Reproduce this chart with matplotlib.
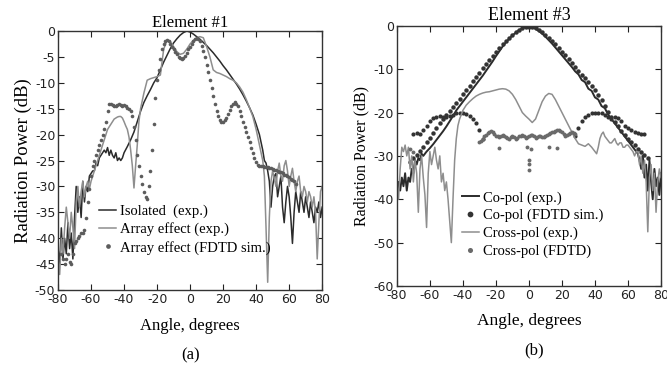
import matplotlib
matplotlib.use('Agg')
import matplotlib.pyplot as plt

plt.rcParams['axes.unicode_minus'] = False

# ---- panel (a): Element #1 ----
iso_ang = list(range(-80, -39)) + list(range(-38, 45, 2)) + list(range(45, 81))
iso_db = [-42, -45, -38, -44, -40, -43, -37, -42, -39, -44,
          -36, -30, -35, -32, -36, -29, -33, -30, -31, -28,
          -27.5, -27, -27, -25.5, -26, -24.5, -24, -23.5, -23, -23.5,
          -22.5, -24, -23, -24, -24.5, -23.5, -25, -24.5, -25, -24.5,
          -23.5,
          -22.3, -21, -19.5, -17.5, -15.5, -13.8, -12.5, -11.3, -10, -9,
          -7.5, -6, -4.7, -3.4, -2.3, -1.5, -0.8, -0.3, 0, -0.2,
          -0.6, -1.1, -1.6, -2.2, -2.8, -3.5, -4.2, -5, -5.8, -6.7,
          -7.5, -8.4, -9.3, -10.2, -11.2, -12.3, -13.5, -14.8, -16.2, -18,
          -20, -23,
          -25, -25.5, -27, -29, -34, -30, -28, -27.5, -32, -30,
          -28, -34, -37, -33, -30, -32, -36, -41, -35, -31,
          -33, -35, -31, -33, -35, -32, -34, -36, -33, -35,
          -37, -34, -35, -33, -36, -34]

arr_ang = list(range(-80, -29)) + list(range(-28, 45, 2)) + list(range(45, 81))
arr_db = [-44, -47, -40, -43, -38, -34, -37, -40, -35, -38,
          -42, -33, -30, -34, -31, -29, -32, -30, -29, -30.5,
          -29, -28, -27, -26, -25, -24, -23, -22, -21, -20,
          -19, -18.5, -18, -17.5, -17, -16.8, -16.6, -16.5, -16.5, -16.8,
          -17.5, -18.3, -19, -20.5, -23, -26, -30.3, -26, -22, -17.5,
          -15,
          -12, -9.5, -9.2, -9, -8.8, -8.5, -3.5, -1.8, -2, -3,
          -4, -4.5, -4.3, -3.5, -2.5, -1.8, -1.3, -1.1, -1.3, -3,
          -5, -7.5, -8, -8.2, -8.5, -8.8, -9.2, -9.5, -10, -10.8,
          -11.8, -13.2, -14.8, -16.5, -19, -22, -25,
          -28, -38, -48.5, -36, -29, -27, -28.5, -30, -27, -25.5,
          -28, -29, -26, -25, -27, -30, -28, -26.5, -29, -31,
          -29, -28, -31, -32, -30, -31, -33, -31, -32, -34,
          -32, -35, -44, -37, -31, -30]

fdtd_a_ang = list(range(-78, 65))
fdtd_a_db = [-43, -44, -45, -44, -43, -44.5, -45, -43, -41, -40.5,
             -40, -39.5, -39, -39, -38.5, -36, -33, -30.5, -28, -26,
             -25, -24, -23, -22, -21, -20, -19, -17.5, -15.5, -14,
             -14, -14.3, -14.5, -14.5, -14.2, -14, -14.2, -14.5, -14.3, -14.5,
             -14.8, -15, -15.5, -16.5, -18.5, -21, -24, -26, -28, -29.5,
             -31, -32, -32.5, -30, -27, -23, -18, -13, -9.5, -7.5,
             -5.5, -3.5, -2.5, -2, -1.8, -2, -2.5, -3, -3.5, -4,
             -4.5, -5, -5.2, -5.4, -5.2, -4.8, -4.2, -3.5, -3, -2.5,
             -2, -1.6, -1.4, -1.5, -2, -2.8, -3.8, -5, -6.5, -8,
             -9.5, -11, -12.5, -14, -15.5, -16.5, -17.2, -17.5, -17.5, -17.2,
             -16.8, -16, -15.3, -14.5, -14, -13.8, -14, -14.5, -15.5, -16.5,
             -17.5, -18.5, -19.5, -20.5, -21.5, -22.5, -23.5, -24.5, -25.3, -25.8,
             -26, -26, -26, -26.2, -26.3, -26.2, -26.5, -26.4, -26.6, -26.8,
             -26.8, -27, -27.2, -27.3, -27.5, -27.7, -27.8, -28, -28.2, -28.5,
             -28.8, -29, -29.5]

# ---- panel (b): Element #3 ----
co_exp_ang = list(range(-80, -63)) + list(range(-62, 67, 2)) + list(range(67, 81))
co_exp_db = [-40, -36, -38, -35, -37, -34, -38, -35, -36, -33, -34, -31, -32, -30.5, -31, -29.5, -30,
             -29, -28.2, -27.3, -26.3, -25.3, -24.3, -23.2, -22, -20.8, -19.5,
             -18.5, -17.5, -16.5, -15.5, -14.5, -13.5, -12.5, -11.5, -10.4, -9.3,
             -8.2, -7, -5.9, -4.8, -3.8, -3, -2.2, -1.6, -1, -0.6,
             -0.3, -0.1, -0.3, -0.7, -1.2, -1.8, -2.5, -3.3, -4.1, -5,
             -5.9, -6.8, -7.7, -8.6, -9.5, -10.5, -11.2, -12.5, -13, -14.5,
             -15, -16.5, -17, -18.5, -19, -20.5, -21.5, -22.5, -23.5, -24.5,
             -25.5, -26.5, -27.5, -28.5, -29.5,
             -31, -33, -30, -35, -32, -38, -31, -36, -40, -33, -37, -35, -39, -34]

co_fdtd_ang = list(range(-72, 73, 2))
co_fdtd_db = [-31.5, -30.5, -29.8, -28.8, -28, -26.8, -25.8, -24.8, -23.6, -22.5,
              -21.5, -20.5, -19.6, -18.7, -17.8, -16.8, -15.8, -14.8, -13.8, -12.8,
              -11.8, -10.8, -9.8, -8.8, -7.9, -6.9, -6, -5.1, -4.3, -3.5,
              -2.8, -2.1, -1.5, -1, -0.6, -0.3, -0.2, -0.3, -0.6, -1,
              -1.5, -2.1, -2.8, -3.5, -4.3, -5.1, -6, -6.8, -7.7, -8.6,
              -9.5, -10.4, -11.3, -12.1, -12.9, -13.8, -14.8, -16, -17.2, -18.5,
              -19.8, -21, -22.2, -23.2, -24.2, -25.2, -26, -26.8, -27.6, -28.3,
              -29, -29.8, -30.5]

lobe_l_ang = list(range(-70, -27, 2))
lobe_l_db = [-25, -24.8, -25, -24, -23, -22, -21.3, -21, -20.8, -21, -21,
             -20.8, -20.5, -20.2, -20, -20, -20.3, -20.8, -21.5, -22.5, -24, -26]
lobe_r_ang = list(range(28, 71, 2))
lobe_r_db = [-25.5, -23.5, -22, -21, -20.5, -20.2, -20, -20, -20.2, -20.5, -21,
             -21.5, -21, -21.2, -22, -23, -23.5, -24, -24.5, -24.8, -25, -25]

x_exp_ang = list(range(-80, -39)) + list(range(-38, 41, 2)) + list(range(41, 81))
x_exp_db = [-36, -40, -33, -28, -29, -27.5, -30, -28, -33, -30,
            -36, -31, -34, -43, -33, -30, -35, -39, -46.5, -34,
            -29, -32, -30, -28, -31, -33, -30, -36, -34, -38,
            -36, -40, -45, -50, -40, -31, -26, -23, -21.5, -20.5,
            -19.5,
            -18.3, -17.5, -16.8, -16.2, -15.8, -15.5, -15.3, -15.2, -15, -14.8,
            -14.6, -14.5, -14.6, -15, -15.8, -17, -18.5, -20, -20.8, -21.5,
            -22.3, -21.5, -19.5, -17.5, -16.2, -15.6, -15.8, -17, -18.5, -20,
            -21.5, -23, -24.5, -26, -27.2, -27.5, -27.8, -27.2, -28, -29,
            -29.5, -28, -26, -25, -24.5, -25.5, -26, -26.5, -27, -27,
            -26.5, -26, -27, -27.5, -27, -27, -28, -28, -27.5, -27.5,
            -28, -28.5, -29, -30, -29, -29, -32, -30, -34, -31,
            -36, -47.5, -35, -32, -38, -34, -43, -36, -33, -35]

x_fdtd_ang = list(range(-30, 29)) + [-72, -70, -18, -1, 1, 0, 0, 0, 12, 17]
x_fdtd_db = [-26.8, -26.5, -26, -25.5, -25.2, -24.8, -24.4, -24.3, -24.6, -25,
             -25.3, -25.5, -25.6, -25.4, -25.2, -25.3, -25.6, -25.9, -26, -25.7,
             -25.4, -25.6, -26, -25.8, -25.5, -25.3, -25.2, -25.5, -25.8, -25.6,
             -25.3, -25.1, -25.2, -25.5, -25.8, -25.7, -25.4, -25.5, -25.7, -25.6,
             -25.5, -25.2, -25, -24.8, -24.6, -24.4, -24.3, -24.1, -24, -24.3,
             -24.6, -25, -25.3, -25.2, -25, -24.8, -24.6, -24.8, -25,
             -28.5, -29, -28.2, -28, -28.5, -31, -31.8, -33.2, -27.9, -28.2]

serif = ['Liberation Serif', 'DejaVu Serif']
dark = '#2b2b2b'
gray = '#8e8e8e'

fig = plt.figure(figsize=(6.67, 3.69), dpi=100)
ax1 = fig.add_axes([0.087, 0.214, 0.396, 0.702])
ax2 = fig.add_axes([0.595, 0.225, 0.396, 0.705])

ax1.plot(iso_ang, iso_db, color=dark, lw=1.1, label='Isolated  (exp.)')
ax1.plot(arr_ang, arr_db, color=gray, lw=1.1, label='Array effect (exp.)')
ax1.plot(fdtd_a_ang, fdtd_a_db, 'o', color='#5c5c5c', ms=2.6, mew=0,
         label='Array effect (FDTD sim.)')

ax2.plot(co_exp_ang, co_exp_db, color=dark, lw=1.4, label='Co-pol (exp.)')
ax2.plot(co_fdtd_ang, co_fdtd_db, 'o', color='#333333', ms=3.2, mew=0,
         label='Co-pol (FDTD sim.)')
ax2.plot(lobe_l_ang, lobe_l_db, 'o', color='#333333', ms=3.0, mew=0)
ax2.plot(lobe_r_ang, lobe_r_db, 'o', color='#333333', ms=3.0, mew=0)
ax2.plot(x_exp_ang, x_exp_db, color=gray, lw=1.1, label='Cross-pol (exp.)')
ax2.plot(x_fdtd_ang, x_fdtd_db, 'o', color='#6a6a6a', ms=2.8, mew=0,
         label='Cross-pol (FDTD)')

for ax, ylim, ystep in [(ax1, -50, 5), (ax2, -60, 10)]:
    ax.set_xlim(-80, 80)
    ax.set_ylim(ylim, 0)
    ax.set_xticks(range(-80, 81, 20))
    ax.set_yticks(range(ylim, 1, ystep))
    ax.tick_params(direction='in', top=True, right=True, length=4, width=0.8,
                   labelsize=9, pad=2, colors='#222222')
    for s in ax.spines.values():
        s.set_linewidth(1.0)
        s.set_color('#333333')

ax1.set_title('Element #1', fontsize=12, family=serif, pad=3)
ax2.set_title('Element #3', fontsize=13, family=serif, pad=4)
ax1.set_ylabel('Radiation Power (dB)', fontsize=13.5, family=serif, labelpad=2)
ax2.set_ylabel('Radiation Power (dB)', fontsize=11.5, family=serif, labelpad=3)
ax1.set_xlabel('Angle, degrees', fontsize=12, family=serif, labelpad=9)
ax2.set_xlabel('Angle, degrees', fontsize=12.5, family=serif, labelpad=8)

fig.text(0.286, 0.025, '(a)', fontsize=12, family=serif, ha='center')
fig.text(0.800, 0.04, '(b)', fontsize=12, family=serif, ha='center')

leg_kw = dict(frameon=False, prop={'family': serif, 'size': 10.5}, handlelength=1.2,
              handletextpad=0.25, labelspacing=0.3, borderpad=0, borderaxespad=0,
              markerscale=1.3, loc='upper left')
ax1.legend(bbox_to_anchor=(0.155, 0.33), **leg_kw)
ax2.legend(bbox_to_anchor=(0.245, 0.365), **leg_kw)

fig.savefig('out.png', dpi=100)
